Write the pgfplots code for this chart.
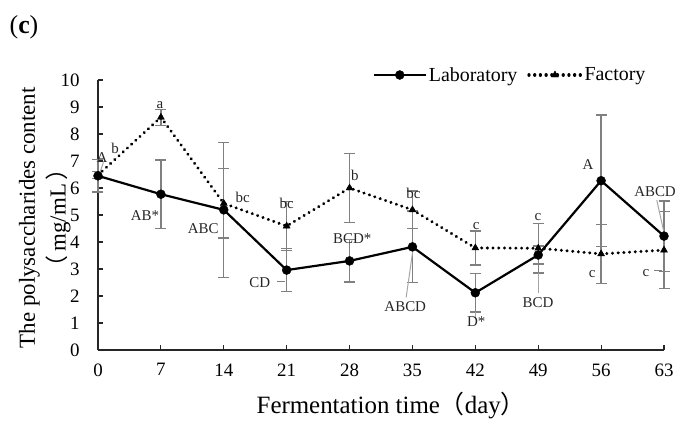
\documentclass[border=0pt]{standalone}
\usepackage{pgfplots}
\usepackage{pgfplotstable}
\pgfplotsset{compat=1.18}
\usepackage{fontspec}
\setmainfont{Liberation Serif}
\newfontfamily\cjk{Noto Sans CJK SC}

\pgfplotstableread{
x y e
0 6.45 0.60
7 5.77 1.27
14 5.19 2.50
21 2.96 0.80
28 3.30 0.78
35 3.82 1.33
42 2.12 0.71
49 3.52 0.33
56 6.27 2.43
63 4.22 1.30
}\lab

\pgfplotstableread{
x y e
0 6.48 0.12
7 8.62 0.30
14 5.43 1.28
21 4.59 0.90
28 6.00 1.27
35 5.19 0.70
42 3.78 0.63
49 3.77 0.92
56 3.56 1.10
63 3.70 1.42
}\fac

\begin{document}
\begin{tikzpicture}
\path (-98bp,-74bp) rectangle (594bp,350bp);
\node[font=\fontsize{26}{30}\selectfont, inner sep=0pt] at (-74bp,323bp) {(\textbf{c})};
\begin{axis}[
  scale only axis, width=566bp, height=270bp,
  xmin=0, xmax=63, ymin=0, ymax=10,
  clip=false,
  axis x line=bottom, axis y line=left,
  axis line style={-, line width=1.3bp, black!85},
  xtick={0,7,...,63}, ytick={0,1,...,10},
  tick align=inside, major tick length=5bp,
  tick style={line width=1.1bp, black!85},
  /pgf/number format/assume math mode=true,
  ticklabel style={font=\fontsize{19}{22}\selectfont},
  yticklabel style={xshift=-15bp},
  xticklabel style={yshift=-10bp},
  xlabel={Fermentation time{\cjk （}day{\cjk ）}},
  xlabel style={at={(axis description cs:0.518,-0.207)}, anchor=center, font=\fontsize{25}{28}\selectfont},
  ylabel={The polysaccharides content\\[4bp]{\cjk （}\,mg/mL\,{\cjk ）}},
  ylabel style={at={(axis description cs:-0.094,0.49)}, anchor=center, align=center, font=\fontsize{23}{27}\selectfont},
  legend style={at={(axis description cs:0.728,1.0185)}, anchor=center, draw=none, fill=none,
    font=\fontsize{20}{24}\selectfont, inner sep=0pt, nodes={inner sep=2bp},
    /tikz/every even column/.append style={column sep=8bp}},
  legend columns=2,
  legend image code/.code={\draw[#1, mark repeat=2, mark phase=2] plot coordinates {(0bp,0bp) (26bp,0bp) (52bp,0bp)};},
]
% error bars (drawn first, behind the lines)
\addplot[forget plot, only marks, mark=none,
  error bars/.cd, y dir=both, y explicit,
  error bar style={black!50, line width=1.3bp},
  error mark options={rotate=90, mark size=5.5bp, black!50, line width=1.3bp}]
  table[x=x, y=y, y error=e] {\lab};
\addplot[forget plot, only marks, mark=none,
  error bars/.cd, y dir=both, y explicit,
  error bar style={black!50, line width=1.3bp},
  error mark options={rotate=90, mark size=5.5bp, black!50, line width=1.3bp}]
  table[x=x, y=y, y error=e] {\fac};

\addplot[black, line width=2.2bp, mark=*, mark size=4.5bp, mark options={solid, line width=0.4bp}]
  table[x=x, y=y] {\lab};
\addlegendentry{Laboratory}
\addplot[black, line width=3.2bp, line cap=round, dash pattern=on 0.1bp off 5.6bp,
  mark=triangle*, mark size=4bp, mark options={solid, line width=0.4bp}]
  table[x=x, y=y] {\fac};
\addlegendentry{Factory}

% leader lines
\draw[gray!70, line width=1bp] (axis cs:34.3,1.95) -- (axis cs:35.05,3.7);
\draw[gray!70, line width=1bp] (axis cs:62.2,5.55) -- (axis cs:63,4.35);
\draw[gray, line width=1.2bp] (axis cs:61.9,2.94) -- (axis cs:62.8,2.94);
\draw[gray, line width=1.2bp] (axis cs:19.9,2.55) -- (axis cs:20.8,2.55);
\draw[gray!70, line width=1bp] (axis cs:49,2.1) -- (axis cs:49,2.85);
\draw[gray!70, line width=1bp] (axis cs:42,1.15) -- (axis cs:42,1.42);
\draw[gray!70, line width=1bp] (axis cs:0.2,6.55) -- (axis cs:0.6,6.95);

% significance letters
\begin{scope}[every node/.style={font=\fontsize{15}{17}\selectfont, text=black!85, inner sep=0pt}]
\node at (axis cs:6.9,9.07) {a};
\node at (axis cs:1.9,7.48) {b};
\node at (axis cs:0.45,7.11) {A};
\node at (axis cs:5.23,4.96) {AB*};
\node at (axis cs:11.7,4.48) {ABC};
\node at (axis cs:16.1,5.67) {bc};
\node at (axis cs:18.0,2.48) {CD};
\node at (axis cs:21.0,5.44) {bc};
\node at (axis cs:28.6,6.48) {b};
\node at (axis cs:28.3,4.11) {BCD*};
\node at (axis cs:35.1,5.81) {bc};
\node at (axis cs:34.2,1.59) {ABCD};
\node at (axis cs:42.1,4.59) {c};
\node at (axis cs:42.1,1.04) {D*};
\node at (axis cs:48.97,4.92) {c};
\node at (axis cs:48.97,1.74) {BCD};
\node at (axis cs:54.54,6.85) {A};
\node at (axis cs:55.0,2.81) {c};
\node at (axis cs:62.0,5.85) {ABCD};
\node at (axis cs:61.0,2.85) {c};
\end{scope}
\end{axis}
\end{tikzpicture}
\end{document}
